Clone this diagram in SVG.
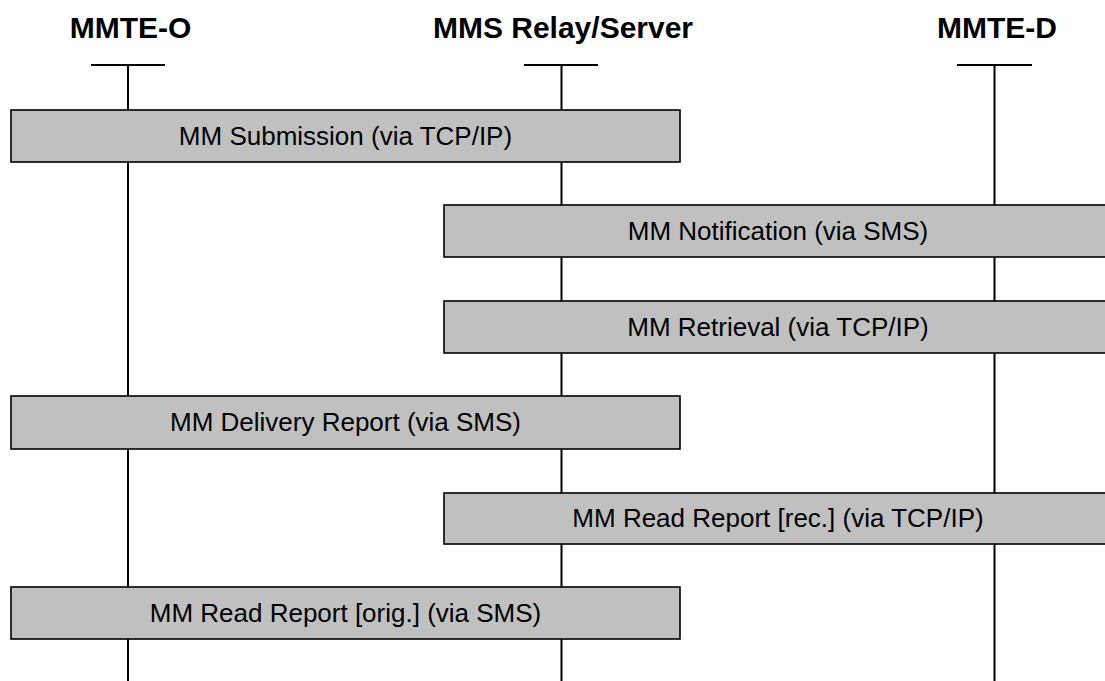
<svg xmlns="http://www.w3.org/2000/svg" width="1105" height="681" viewBox="0 0 1105 681">
<style>
.title{font-family:"Liberation Sans",Arial,sans-serif;font-weight:bold;font-size:30px;fill:#000;text-anchor:middle}
.life{stroke:#000;stroke-width:2;fill:none}
.box{fill:#c0c0c0;stroke:#000;stroke-width:1.6}
.lbl{font-family:"Liberation Sans",Arial,sans-serif;font-size:26px;fill:#000;text-anchor:middle}
</style>
<rect width="1105" height="681" fill="#fff"/>
<g id="connectors">
<path class="life" d="M91 65H165M128 65V681"/>
<path class="life" d="M524 65H598M561.5 65V681"/>
<path class="life" d="M957 65H1032M994.5 65V681"/>
</g>
<g id="mmte-o"><text class="title" x="130.5" y="38">MMTE-O</text></g>
<g id="mms-relay"><text class="title" x="563" y="38">MMS Relay/Server</text></g>
<g id="mmte-d"><text class="title" x="997" y="38">MMTE-D</text></g>
<g id="msg-submission"><rect class="box" x="11" y="110" width="669" height="52"/><text class="lbl" x="345.5" y="144.5">MM Submission (via TCP/IP)</text></g>
<g id="msg-notification"><rect class="box" x="444" y="205" width="668" height="52"/><text class="lbl" x="778" y="239.5">MM Notification (via SMS)</text></g>
<g id="msg-retrieval"><rect class="box" x="444" y="301" width="668" height="52"/><text class="lbl" x="778" y="335.5">MM Retrieval (via TCP/IP)</text></g>
<g id="msg-delivery-report"><rect class="box" x="11" y="396" width="669" height="53"/><text class="lbl" x="345.5" y="431">MM Delivery Report (via SMS)</text></g>
<g id="msg-read-report-rec"><rect class="box" x="444" y="493" width="668" height="51"/><text class="lbl" x="778" y="527">MM Read Report [rec.] (via TCP/IP)</text></g>
<g id="msg-read-report-orig"><rect class="box" x="11" y="587" width="669" height="52"/><text class="lbl" x="345.5" y="621.5">MM Read Report [orig.] (via SMS)</text></g>
</svg>
